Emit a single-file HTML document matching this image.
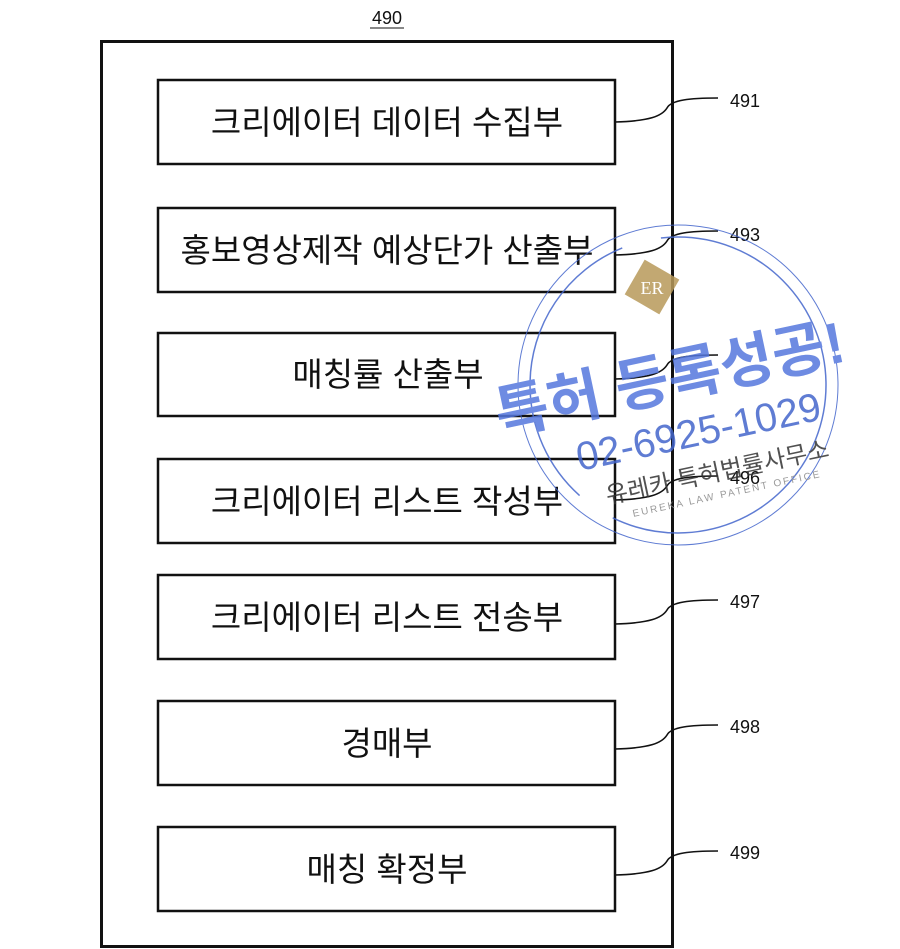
<!DOCTYPE html>
<html><head><meta charset="utf-8"><style>
html,body{margin:0;padding:0;background:#fff;}
svg{display:block;}
.k{font-family:"Liberation Sans","Noto Sans CJK KR",sans-serif;font-size:33px;fill:#111;}
.n{font-family:"Liberation Sans",sans-serif;font-size:18px;fill:#111;}
</style></head><body>
<svg width="900" height="949" viewBox="0 0 900 949" xmlns="http://www.w3.org/2000/svg">
<text x="387" y="24" class="n" text-anchor="middle">490</text>
<line x1="370" y1="28" x2="404" y2="28" stroke="#111" stroke-width="1"/>
<rect x="101.5" y="41.5" width="571" height="905" fill="none" stroke="#111" stroke-width="3"/>
<g fill="none" stroke="#111" stroke-width="2.5">
<rect x="158" y="80" width="457" height="84"/>
<rect x="158" y="208" width="457" height="84"/>
<rect x="158" y="333" width="457" height="83"/>
<rect x="158" y="459" width="457" height="84"/>
<rect x="158" y="575" width="457" height="84"/>
<rect x="158" y="701" width="457" height="84"/>
<rect x="158" y="827" width="457" height="84"/>
</g>
<g fill="none" stroke="#111" stroke-width="1.6">
<path d="M615 122 C650 121 662 116 667 108 C671 100 690 98 718 98"/>
<path d="M615 255 C650 254 662 249 667 241 C671 233 690 231 718 231"/>
<path d="M615 379 C650 378 662 373 667 365 C671 357 690 355 718 355"/>
<path d="M615 500 C650 499 662 494 667 486 C671 478 690 476 718 476"/>
<path d="M615 624 C650 623 662 618 667 610 C671 602 690 600 718 600"/>
<path d="M615 749 C650 748 662 743 667 735 C671 727 690 725 718 725"/>
<path d="M615 875 C650 874 662 869 667 861 C671 853 690 851 718 851"/>
</g>
<g class="n">
<text x="730" y="107">491</text>
<text x="730" y="241">493</text>
<text x="730" y="484">496</text>
<text x="730" y="608">497</text>
<text x="730" y="733">498</text>
<text x="730" y="859">499</text>
</g>
<g class="k" text-anchor="middle">
<text x="387" y="134">크리에이터 데이터 수집부</text>
<text x="387" y="262">홍보영상제작 예상단가 산출부</text>
<text x="388" y="386">매칭률 산출부</text>
<text x="387" y="513">크리에이터 리스트 작성부</text>
<text x="387" y="629">크리에이터 리스트 전송부</text>
<text x="387" y="755">경매부</text>
<text x="387" y="881">매칭 확정부</text>
</g>
<!-- stamp -->
<g opacity="0.85">
<circle cx="678" cy="385" r="160" fill="none" stroke="#4466cc" stroke-width="1"/>
<circle cx="678" cy="385" r="148" fill="none" stroke="#4466cc" stroke-width="1.5" stroke-dasharray="300 40"/>
<rect x="632" y="267" width="40" height="40" fill="#b89a5a" transform="rotate(30 652 287)"/>
<text x="652" y="294" font-family="Liberation Serif,serif" font-size="18" fill="#fff" text-anchor="middle">ER</text>
<g transform="rotate(-12 670 370)">
<text x="668" y="398" font-family="Liberation Sans,'Noto Sans CJK KR',sans-serif" font-weight="bold" font-size="58" fill="#5577dd" text-anchor="middle">특허 등록성공!</text>
<text x="685" y="450" font-family="Liberation Sans,sans-serif" font-size="40" fill="#4466cc" text-anchor="middle">02-6925-1029</text>
<text x="695" y="488" font-family="Liberation Sans,'Noto Sans CJK KR',sans-serif" font-size="24" fill="#333" text-anchor="middle">유레카 특허법률사무소</text>
<text x="700" y="506" font-family="Liberation Sans,sans-serif" font-size="10" fill="#888" text-anchor="middle" letter-spacing="2">EUREKA LAW PATENT OFFICE</text>
</g>
</g>
</svg>
</body></html>
